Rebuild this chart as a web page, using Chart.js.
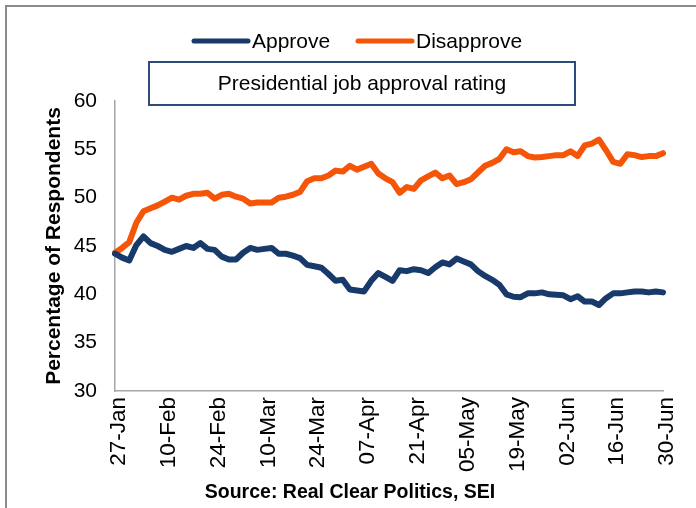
<!DOCTYPE html>
<html>
<head>
<meta charset="utf-8">
<script src="https://cdn.jsdelivr.net/npm/chart.js@4.4.0/dist/chart.umd.min.js"></script>
<style>
  html, body { margin: 0; padding: 0; background: #fff; }
  #wrap { width: 696px; height: 508px; }
</style>
</head>
<body>
<div id="wrap"><canvas id="approvalChart" width="696" height="508"></canvas></div>
<script>
// tick labels every 14 days, 27-Jan .. 30-Jun
const tickLabels = ['27-Jan', '10-Feb', '24-Feb', '10-Mar', '24-Mar', '07-Apr', '21-Apr', '05-May', '19-May', '02-Jun', '16-Jun', '30-Jun'];

// one reading every 2 days
const approve = [
    44.2, 43.8, 43.5, 45.1, 46.0, 45.3, 45.0, 44.6, 44.4, 44.7,
    45.0, 44.8, 45.3, 44.7, 44.6, 43.9, 43.6, 43.6, 44.3, 44.8,
    44.6, 44.7, 44.8, 44.2, 44.2, 44.0, 43.75, 43.05, 42.9, 42.75,
    42.1, 41.4, 41.5, 40.5, 40.4, 40.3, 41.4, 42.2, 41.8, 41.4,
    42.5, 42.4, 42.6, 42.5, 42.2, 42.8, 43.3, 43.1, 43.7, 43.4,
    43.1, 42.4, 41.9, 41.5, 41.0, 40.0, 39.75, 39.7, 40.1, 40.1,
    40.2, 40.0, 39.95, 39.9, 39.5, 39.8, 39.25, 39.25, 38.9, 39.6,
    40.1, 40.1, 40.2, 40.3, 40.3, 40.2, 40.3, 40.2
];
const disapprove = [
    44.3, 44.8, 45.4, 47.4, 48.6, 48.9, 49.2, 49.6, 50.0, 49.8,
    50.2, 50.4, 50.4, 50.5, 49.9, 50.3, 50.4, 50.1, 49.9, 49.4,
    49.5, 49.5, 49.5, 50.0, 50.1, 50.3, 50.6, 51.7, 52.0, 52.0,
    52.3, 52.8, 52.7, 53.3, 52.9, 53.2, 53.5, 52.5, 52.0, 51.6,
    50.5, 51.1, 50.9, 51.8, 52.2, 52.6, 52.0, 52.3, 51.4, 51.6,
    51.9, 52.6, 53.3, 53.6, 54.0, 55.0, 54.7, 54.8, 54.3, 54.15,
    54.2, 54.3, 54.4, 54.4, 54.8, 54.3, 55.4, 55.6, 56.0, 54.9,
    53.7, 53.5, 54.5, 54.4, 54.2, 54.3, 54.3, 54.6
];

const seriesNames = ['Approve', 'Disapprove'];
const seriesColors = ['#173a6b', '#f55508'];
const subtitle = 'Presidential job approval rating';
const sourceNote = 'Source: Real Clear Politics, SEI';

// category per reading, label only where a tick falls
const categories = approve.map((v, i) => (i % 7 === 0 ? tickLabels[i / 7] : ''));

const FONT = "'Liberation Sans', Arial, sans-serif";
Chart.defaults.font.family = FONT;
Chart.defaults.color = '#000';

// frame, legend, boxed subtitle and source line
const decorations = {
    id: 'decorations',
    beforeDraw(chart) {
        const ctx = chart.ctx;
        ctx.save();
        ctx.strokeStyle = '#8c8c8c';
        ctx.lineWidth = 2;
        ctx.strokeRect(6, 6, 740, 560);
        ctx.restore();
    },
    afterDraw(chart) {
        const ctx = chart.ctx;
        ctx.save();

        // legend
        const items = [{ x0: 194, x1: 248, tx: 252 }, { x0: 358, x1: 412, tx: 416 }];
        ctx.font = '21px ' + FONT;
        ctx.textBaseline = 'middle';
        ctx.textAlign = 'left';
        chart.data.datasets.forEach((ds, i) => {
            const it = items[i];
            ctx.strokeStyle = ds.borderColor;
            ctx.lineWidth = 5;
            ctx.lineCap = 'round';
            ctx.beginPath();
            ctx.moveTo(it.x0, 41);
            ctx.lineTo(it.x1, 41);
            ctx.stroke();
            ctx.fillStyle = '#000';
            ctx.fillText(ds.label, it.tx, 42);
        });

        // boxed subtitle
        ctx.strokeStyle = '#2f4b7c';
        ctx.lineWidth = 2;
        ctx.strokeRect(149, 62, 426, 43);
        ctx.textAlign = 'center';
        ctx.fillText(subtitle, 362, 84);

        // source
        ctx.font = 'bold 19.5px ' + FONT;
        ctx.fillText(sourceNote, 350, 493);
        ctx.restore();
    }
};

const approvalCtx = document.getElementById('approvalChart').getContext('2d');
const approvalChart = new Chart(approvalCtx, {
    type: 'line',
    data: {
        labels: categories,
        datasets: [
            {
                label: seriesNames[0],
                data: approve,
                borderColor: seriesColors[0],
                borderWidth: 6,
                pointRadius: 0,
                tension: 0,
                borderJoinStyle: 'round',
                borderCapStyle: 'round',
                fill: false
            },
            {
                label: seriesNames[1],
                data: disapprove,
                borderColor: seriesColors[1],
                borderWidth: 6,
                pointRadius: 0,
                tension: 0,
                borderJoinStyle: 'round',
                borderCapStyle: 'round',
                fill: false
            }
        ]
    },
    options: {
        responsive: false,
        animation: false,
        layout: {
            padding: { top: 101, right: 23, bottom: 0, left: 0 }
        },
        plugins: {
            legend: { display: false },
            tooltip: { enabled: false }
        },
        scales: {
            x: {
                type: 'category',
                offset: false,
                grid: { display: false, drawTicks: false },
                border: { color: '#a6a6a6', width: 1.5 },
                ticks: {
                    autoSkip: false,
                    minRotation: 90,
                    maxRotation: 90,
                    padding: 6,
                    labelOffset: 4,
                    font: { size: 22.5 }
                },
                afterFit: function(scale) { scale.height = 117; }
            },
            y: {
                min: 30,
                max: 60,
                grid: { display: false, drawTicks: false },
                border: { color: '#a6a6a6', width: 1.5 },
                ticks: {
                    stepSize: 5,
                    padding: 18,
                    font: { size: 21 }
                },
                title: {
                    display: true,
                    text: 'Percentage of Respondents',
                    font: { size: 21, weight: 'bold' },
                    padding: { top: 42, bottom: 0 }
                },
                afterFit: function(scale) { scale.width = 115; }
            }
        }
    },
    plugins: [decorations]
});
</script>
</body>
</html>
